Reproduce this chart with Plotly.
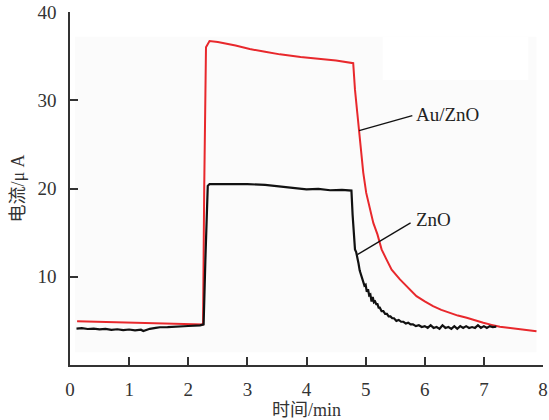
import plotly.graph_objects as go

# Au/ZnO (red) trace: time (min), current (uA)
au_t = [0.12, 0.5, 1.0, 1.5, 2.0, 2.22, 2.25, 2.27, 2.30, 2.36, 2.5, 2.8, 3.04, 3.3, 3.55,
        3.9, 4.23, 4.5, 4.79, 4.82, 4.86, 4.89, 4.93, 4.96, 5.01, 5.07, 5.13, 5.20, 5.27,
        5.35, 5.44, 5.58, 5.72, 5.86, 6.0, 6.14, 6.28, 6.42, 6.56, 6.71, 6.85, 6.99, 7.13,
        7.27, 7.41, 7.55, 7.72, 7.89]
au_i = [4.96, 4.9, 4.8, 4.7, 4.62, 4.55, 4.6, 20.0, 36.0, 36.7, 36.6, 36.2, 35.8, 35.5, 35.2,
        34.9, 34.7, 34.5, 34.2, 31.2, 28.5, 26.5, 24.0, 21.8, 19.5, 17.6, 16.1, 14.8, 13.1,
        12.0, 10.8, 9.7, 8.7, 7.8, 7.2, 6.66, 6.25, 5.9, 5.6, 5.35, 5.05, 4.78, 4.55,
        4.33, 4.22, 4.1, 3.95, 3.83]

# ZnO (black) trace
zn_t = [0.11, 0.2, 0.3, 0.4, 0.5, 0.6, 0.7, 0.8, 0.9, 1.0, 1.1, 1.2, 1.24, 1.3, 1.35, 1.45,
        1.52, 1.65, 1.8, 2.0, 2.2, 2.26, 2.29, 2.33, 2.36, 2.7, 3.0, 3.3, 3.6, 3.9, 4.0,
        4.2, 4.4, 4.6, 4.76, 4.78,
        4.80, 4.82, 4.84, 4.86, 4.88, 4.90, 4.92, 4.94, 4.96, 4.98, 5.00, 5.02, 5.04, 5.06,
        5.08, 5.10, 5.12, 5.14, 5.16, 5.18, 5.20, 5.22, 5.24, 5.27, 5.30, 5.33, 5.36, 5.39,
        5.42, 5.45, 5.48, 5.52, 5.56, 5.60, 5.64, 5.68, 5.72, 5.76, 5.80, 5.85, 5.90, 5.95,
        6.00, 6.05, 6.10, 6.15, 6.20, 6.25, 6.30, 6.35, 6.40, 6.45, 6.50, 6.55, 6.60, 6.65,
        6.70, 6.75, 6.80, 6.85, 6.90, 6.95, 7.00, 7.05, 7.10, 7.15, 7.21]
zn_i = [4.13, 4.18, 4.08, 4.12, 4.03, 4.1, 3.98, 4.05, 3.95, 4.02, 3.93, 4.0, 3.85, 4.02, 4.1, 4.2,
        4.28, 4.3, 4.38, 4.42, 4.5, 4.6, 12.0, 20.3, 20.5, 20.5, 20.5, 20.4, 20.2, 20.0, 19.9,
        19.95, 19.8, 19.85, 19.76, 17.0,
        14.6, 13.1, 12.8, 11.9, 11.5, 10.7, 10.3, 9.8, 9.5, 9.0, 9.1, 8.3, 8.6, 7.9,
        8.0, 7.2, 7.7, 7.1, 7.2, 6.9, 6.9, 6.5, 6.5, 6.1, 6.1, 5.8, 5.8, 5.5,
        5.5, 5.3, 5.3, 5.0, 5.1, 4.9, 4.9, 4.7, 4.8, 4.6, 4.6, 4.4, 4.5, 4.3,
        4.4, 4.2, 4.5, 4.2, 4.3, 4.1, 4.5, 4.2, 4.3, 4.1, 4.4, 4.1, 4.4, 4.2,
        4.4, 4.2, 4.3, 4.2, 4.5, 4.2, 4.4, 4.2, 4.4, 4.3, 4.35]

x_ticks = [0, 1, 2, 3, 4, 5, 6, 7, 8]
y_ticks = [10, 20, 30, 40]
series_labels = ["Au/ZnO", "ZnO"]

serif = "'Liberation Serif', 'Noto Sans CJK SC', serif"

fig = go.Figure()
fig.add_trace(go.Scatter(x=au_t, y=au_i, mode="lines", name=series_labels[0],
                         line=dict(color="#e8282c", width=2)))
fig.add_trace(go.Scatter(x=zn_t, y=zn_i, mode="lines", name=series_labels[1],
                         line=dict(color="#111111", width=2.2)))

# faint background panel
fig.add_shape(type="rect", xref="x", yref="y", x0=0.085, x1=7.89, y0=1.45, y1=37.2,
              fillcolor="#fbfbfb", line=dict(width=0), layer="below")
fig.add_shape(type="rect", xref="x", yref="y", x0=5.29, x1=7.75, y0=32.3, y1=37.2,
              fillcolor="#ffffff", line=dict(width=0), layer="below")

# leader lines
fig.add_shape(type="line", xref="x", yref="y", x0=5.79, y0=28.26, x1=4.89, y1=26.56,
              line=dict(color="#111111", width=1.3))
fig.add_shape(type="line", xref="x", yref="y", x0=5.76, y0=16.1, x1=4.86, y1=12.51,
              line=dict(color="#111111", width=1.3))
fig.add_annotation(x=5.81, y=28.37, text=series_labels[0], showarrow=False, xanchor="left",
                   yanchor="middle", font=dict(family=serif, size=19, color="#222222"))
fig.add_annotation(x=5.81, y=16.48, text=series_labels[1], showarrow=False, xanchor="left",
                   yanchor="middle", font=dict(family=serif, size=19, color="#222222"))

axis_common = dict(showgrid=False, zeroline=False, showline=True, linecolor="#333333",
                   linewidth=1.5, ticks="inside", ticklen=8, tickwidth=1.5, automargin=False,
                   tickcolor="#333333", tickfont=dict(family=serif, size=19, color="#333333"))

fig.update_xaxes(range=[0, 8], tickvals=x_ticks, ticklabelstandoff=6,
                 title=dict(text="时间/min", font=dict(family=serif, size=18, color="#333333"),
                            standoff=16), **axis_common)
fig.update_yaxes(range=[0, 40], tickvals=y_ticks, ticklabelstandoff=8,
                 title=dict(text="电流/μ A", font=dict(family=serif, size=18, color="#333333"),
                            standoff=8), **axis_common)

fig.update_layout(width=549, height=420, margin=dict(l=70, r=6, t=12, b=55),
                  plot_bgcolor="white", paper_bgcolor="white", showlegend=False,
                  font=dict(family=serif))

fig.write_html("out.html")
